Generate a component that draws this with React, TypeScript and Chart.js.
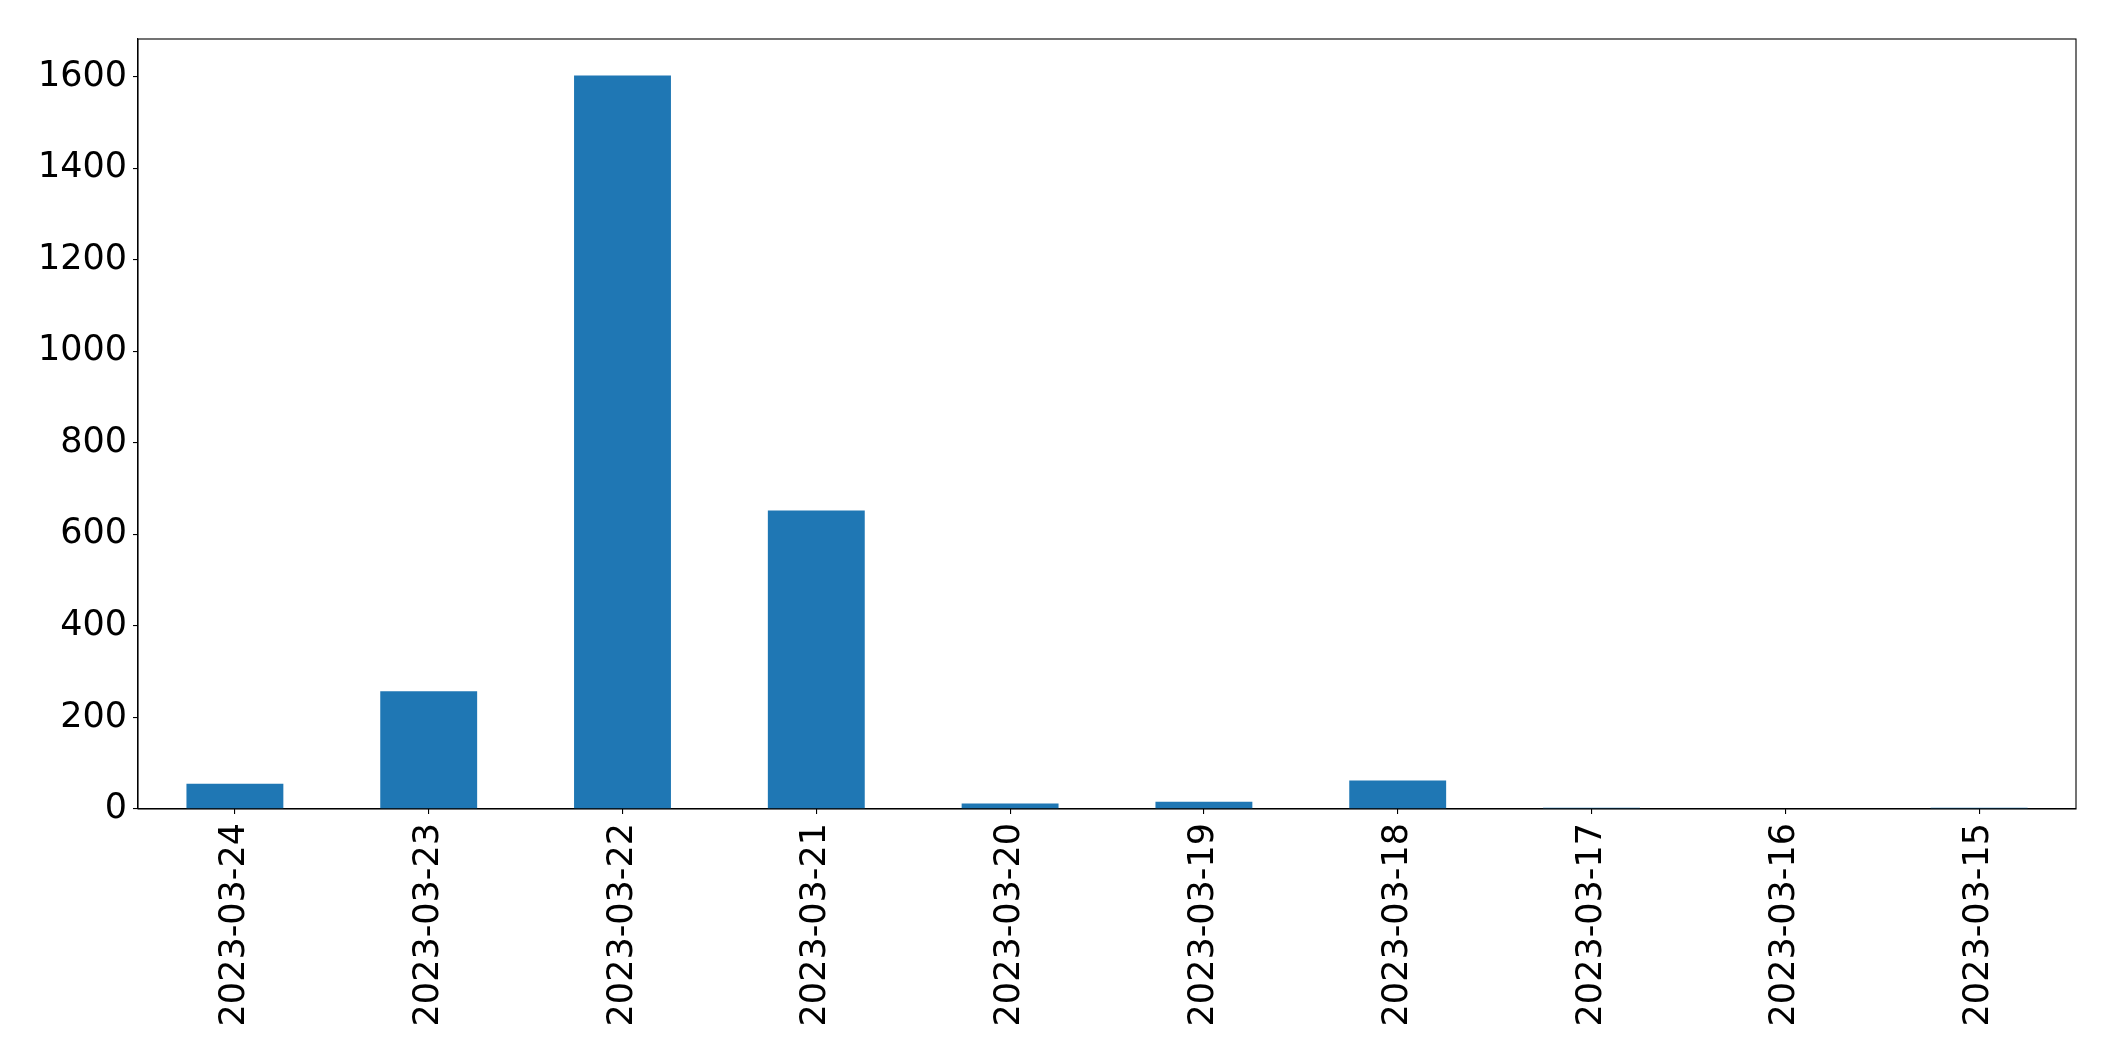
import React, { useEffect, useRef } from "react";
import { Chart, registerables } from "chart.js";

Chart.register(...registerables);

const categories = [
  "2023-03-24",
  "2023-03-23",
  "2023-03-22",
  "2023-03-21",
  "2023-03-20",
  "2023-03-19",
  "2023-03-18",
  "2023-03-17",
  "2023-03-16",
  "2023-03-15",
];
const values = [55, 257, 1602, 652, 12, 16, 62, 3, 0, 3];
const yTicks = [0, 200, 400, 600, 800, 1000, 1200, 1400, 1600];
const yMax = 1682;

const W = 2115;
const H = 1061;

const framePlugin = {
  id: "frame",
  afterDraw(chart: any) {
    const { ctx, chartArea } = chart;
    ctx.save();
    ctx.strokeStyle = "#000";
    ctx.lineWidth = 1.1;
    ctx.strokeRect(chartArea.left, chartArea.top, chartArea.right - chartArea.left, chartArea.bottom - chartArea.top);
    ctx.restore();
  },
};

export default function App() {
  const ref = useRef<HTMLCanvasElement | null>(null);
  useEffect(() => {
    document.body.style.margin = "0";
    if (!ref.current) return;
    const chart = new Chart(ref.current, {
      type: "bar",
      data: {
        labels: categories,
        datasets: [
          {
            data: values,
            backgroundColor: "#1f77b4",
            borderWidth: 0,
            barPercentage: 0.5,
            categoryPercentage: 1.0,
          },
        ],
      },
      options: {
        responsive: false,
        animation: false,
        devicePixelRatio: 1,
        layout: { padding: { top: 39, right: 39, left: 0, bottom: 0 } },
        plugins: { legend: { display: false }, tooltip: { enabled: false } },
        scales: {
          x: {
            grid: {
              display: true,
              drawOnChartArea: false,
              drawTicks: true,
              tickLength: 5,
              color: "#000",
              offset: false,
              lineWidth: 1.1,
            },
            border: { display: true, color: "#000", width: 1.1 },
            ticks: {
              color: "#000",
              font: { family: "DejaVu Sans", size: 35 },
              minRotation: 90,
              maxRotation: 90,
              padding: 9,
              autoSkip: false,
            },
            afterFit(scale: any) {
              scale.height = H - 809;
            },
          },
          y: {
            min: 0,
            max: yMax,
            grid: {
              display: true,
              drawOnChartArea: false,
              drawTicks: true,
              tickLength: 5,
              color: "#000",
              lineWidth: 1.1,
            },
            border: { display: true, color: "#000", width: 1.1 },
            ticks: {
              color: "#000",
              font: { family: "DejaVu Sans", size: 35 },
              padding: 6,
              callback: (v: any) => String(v),
            },
            afterBuildTicks(scale: any) {
              scale.ticks = yTicks.map((v) => ({ value: v }));
            },
            afterFit(scale: any) {
              scale.width = 138;
            },
          },
        },
      },
      plugins: [framePlugin],
    });
    return () => chart.destroy();
  }, []);
  return (
    <div style={{ width: W, height: H, background: "#fff" }}>
      <canvas ref={ref} width={W} height={H} style={{ display: "block" }} />
    </div>
  );
}
